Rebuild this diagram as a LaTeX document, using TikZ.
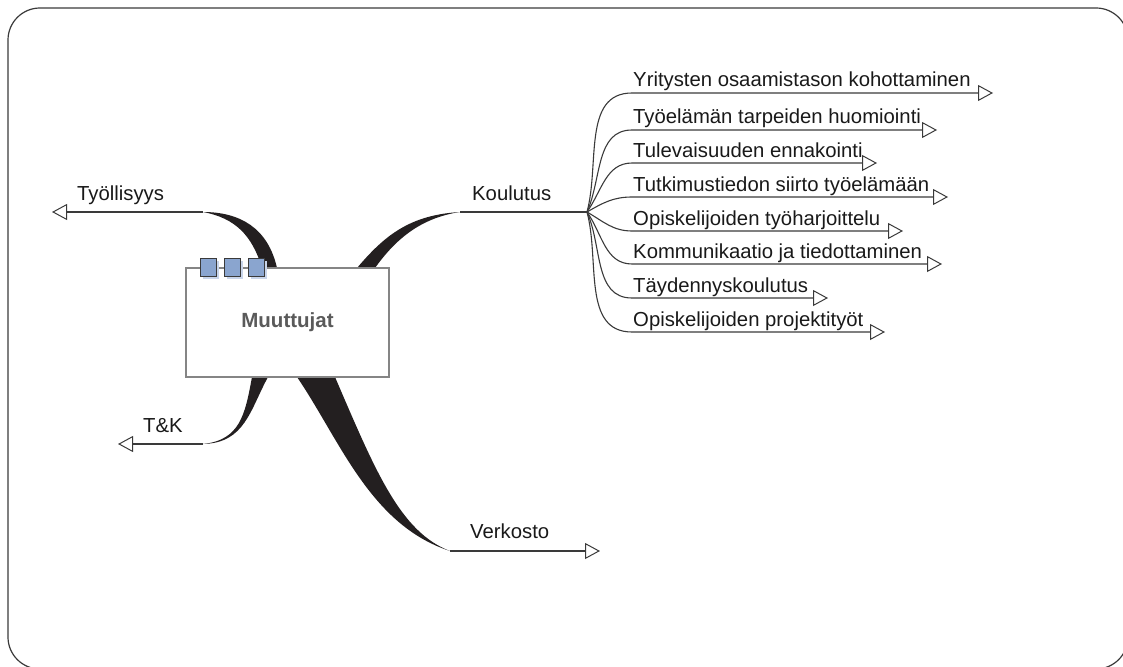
\documentclass[tikz,border=0pt]{standalone}
\usepackage{fontspec}
\setmainfont{Liberation Sans}
\usetikzlibrary{arrows.meta}
\definecolor{branchblack}{HTML}{231F20}
\definecolor{linegray}{HTML}{3A3A3A}
\definecolor{boxgray}{HTML}{858585}
\definecolor{sqblue}{HTML}{8AA5CF}
\definecolor{sqshadow}{HTML}{C9D5EA}
\definecolor{textgray}{HTML}{5A5A5A}
\tikzset{
  lbl/.style={anchor=base west, inner sep=0pt, font=\fontsize{20.3}{22}\selectfont, text=black!90},
  conn/.style={draw=linegray, line width=1.1pt, -{Triangle[open, length=15pt, width=16pt, line width=1pt]}},
  thinline/.style={draw=linegray, line width=1.1pt},
  branch/.style={fill=branchblack, draw=none},
  sq/.style={draw=linegray, fill=sqblue, minimum width=16pt, minimum height=18pt, inner sep=0pt, line width=0.9pt},
  centerbox/.style={draw=boxgray, line width=1.5pt, fill=white, minimum width=203pt, minimum height=109pt, inner sep=0pt,
    font=\bfseries\fontsize{20.5}{22}\selectfont, text=textgray},
  frame/.style={draw=linegray, line width=1.2pt, rounded corners=32pt}
}
\begin{document}
\begin{tikzpicture}[x=1pt, y=-1pt]
\useasboundingbox (0,0) rectangle (1123,666);
\draw[frame] (8,8) rectangle (1128,669);

% tapered branches
\fill[branch] (262,268) .. controls (252,235) and (235,218) .. (203,212)
   .. controls (240,212) and (268,228) .. (277,268) -- cycle;
\fill[branch] (357,268) .. controls (385,235) and (410,215) .. (460,212)
   .. controls (420,218) and (395,240) .. (375,268) -- cycle;
\fill[branch] (252,377) .. controls (245,415) and (240,440) .. (203,444)
   .. controls (245,443) and (250,410) .. (268,377) -- cycle;
\fill[branch] (297,377) .. controls (340,440) and (370,525) .. (450,551)
   .. controls (400,532) and (375,470) .. (335,377) -- cycle;

% central box
\node[centerbox] (box) at (287.5,322.5) {Muuttujat};
\foreach \c/\x in {1/208,2/232,3/256} {
  \fill[sqshadow] ({\x-8+3},{258+3}) rectangle ++(16,18);
}
\foreach \c/\x in {1/208,2/232,3/256} {
  \node[sq] (sq\c) at (\x,267) {};
}

% main branches: thin ends and tips
\coordinate (tyEnd) at (203,212);
\coordinate (tyTip) at (52,212);
\coordinate (koEnd) at (460,212);
\coordinate (hub) at (587,212);
\coordinate (tkEnd) at (203,444);
\coordinate (tkTip) at (118,444);
\coordinate (veEnd) at (450,551);
\coordinate (veTip) at (600,551);

\draw[conn] (tyEnd) -- (tyTip);
\draw[thinline] (koEnd) -- (hub);
\draw[conn] (tkEnd) -- (tkTip);
\draw[conn] (veEnd) -- (veTip);

\node[lbl] (tyLbl) at (77,200) {Työllisyys};
\node[lbl] (koLbl) at (472,200) {Koulutus};
\node[lbl] (tkLbl) at (143,432) {T\&K};
\node[lbl] (veLbl) at (470,538) {Verkosto};

% sub-branches of Koulutus
\foreach \i/\yy/\tx/\ang/\txt in {
  1/93/993/75/Yritysten osaamistason kohottaminen,
  2/130/937/66/Työelämän tarpeiden huomiointi,
  3/163/877/55/Tulevaisuuden ennakointi,
  4/197/948/30/Tutkimustiedon siirto työelämään,
  5/231/903/-30/Opiskelijoiden työharjoittelu,
  6/264/942/-55/Kommunikaatio ja tiedottaminen,
  7/298/828/-66/Täydennyskoulutus,
  8/332/885/-75/Opiskelijoiden projektityöt} {
  \coordinate (s\i) at (632,\yy);
  \coordinate (t\i) at (\tx,\yy);
  \node[lbl] (l\i) at (633,{\yy-6}) {\txt};
  \draw[conn] (hub) to[out=\ang,in=180] (s\i) -- (t\i);
}
\end{tikzpicture}
\end{document}
